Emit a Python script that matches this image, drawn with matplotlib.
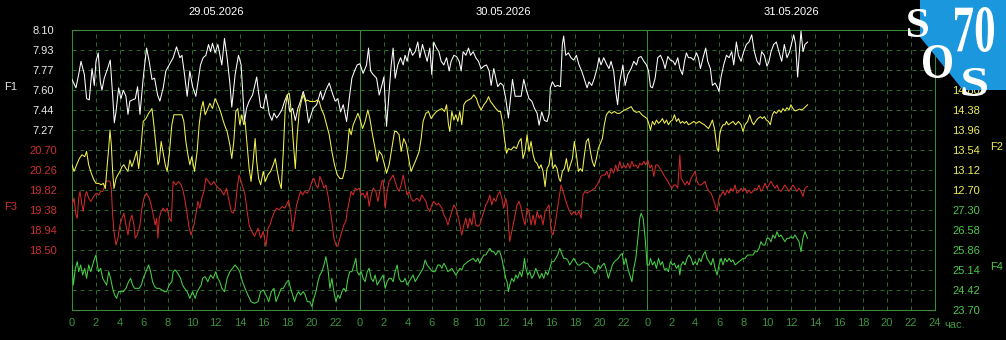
import matplotlib
matplotlib.use('Agg')
import matplotlib.pyplot as plt
from matplotlib.patches import Polygon, PathPatch
from matplotlib.textpath import TextPath
from matplotlib.font_manager import FontProperties
from matplotlib.transforms import Affine2D, IdentityTransform

plt.rcParams['font.family'] = ['Liberation Sans', 'DejaVu Sans']

# ---- data (hours since 29.05.2026 00:00, value) ----
dates = ['29.05.2026', '30.05.2026', '31.05.2026']

f1_ticks = [8.10, 7.93, 7.77, 7.60, 7.44, 7.27]
f2_ticks = [14.80, 14.38, 13.96, 13.54, 13.12, 12.70]
f3_ticks = [20.70, 20.26, 19.82, 19.38, 18.94, 18.50]
f4_ticks = [27.30, 26.58, 25.86, 25.14, 24.42, 23.70]

f1_points = [
    (0, 7.69), (0.33, 7.62), (0.61, 7.76), (0.75, 7.84), (1.03, 7.73), (1.22, 7.53), (1.44, 7.52),
    (1.67, 7.78), (1.86, 7.64), (2.0, 7.84), (2.19, 7.91), (2.36, 7.67), (2.5, 7.60), (2.69, 7.70),
    (2.97, 7.78), (3.19, 7.85), (3.39, 7.56), (3.53, 7.33), (3.67, 7.42), (3.89, 7.62), (4.08, 7.53),
    (4.28, 7.60), (4.5, 7.55), (4.67, 7.40), (4.83, 7.51), (5.06, 7.52), (5.28, 7.53), (5.47, 7.63),
    (5.67, 7.40), (5.94, 7.70), (6.22, 7.95), (6.44, 7.84), (6.67, 7.69), (6.89, 7.70), (7.14, 7.56),
    (7.33, 7.51), (7.61, 7.62), (7.83, 7.76), (8.11, 7.81), (8.44, 7.87), (8.72, 7.96), (9.0, 7.87),
    (9.17, 7.89), (9.39, 7.73), (9.61, 7.55), (9.83, 7.76), (10.06, 7.63), (10.33, 7.55), (10.5, 7.66),
    (10.72, 7.81), (10.94, 7.87), (11.17, 7.89), (11.39, 7.98), (11.56, 7.92), (11.72, 7.99),
    (11.94, 7.91), (12.17, 7.98), (12.5, 7.81), (12.72, 8.03), (12.94, 7.87), (13.17, 7.66),
    (13.33, 7.46), (13.61, 7.73), (13.89, 7.89), (14.11, 7.81), (14.39, 7.34), (14.56, 7.45),
    (14.78, 7.51), (15.06, 7.56),
    (15.41, 7.71), (15.54, 7.60), (15.74, 7.46), (15.96, 7.45), (16.18, 7.57), (16.46, 7.40),
    (16.68, 7.35), (16.85, 7.41), (17.07, 7.37), (17.29, 7.40), (17.52, 7.44), (17.74, 7.51),
    (17.96, 7.56), (18.18, 7.42), (18.41, 7.45), (18.63, 7.35), (18.85, 7.45), (19.07, 7.51),
    (19.29, 7.59), (19.46, 7.53), (19.74, 7.33), (19.96, 7.40), (20.13, 7.45), (20.41, 7.48),
    (20.74, 7.59), (20.91, 7.52), (21.18, 7.60), (21.46, 7.66), (21.74, 7.57), (21.96, 7.51),
    (22.18, 7.53), (22.41, 7.42), (22.63, 7.48), (22.91, 7.34), (23.13, 7.53), (23.35, 7.70),
    (23.57, 7.76), (23.79, 7.81), (24.02, 7.82), (24.29, 7.74), (24.57, 7.81), (24.74, 7.95),
    (24.91, 7.76), (25.13, 7.73), (25.41, 7.70), (25.63, 7.56), (25.85, 7.64), (26.02, 7.71),
    (26.24, 7.30), (26.46, 7.59), (26.63, 7.81), (26.79, 7.95), (26.96, 7.70), (27.18, 7.81),
    (27.41, 7.87), (27.63, 7.81), (27.79, 7.89), (27.96, 7.84), (28.18, 7.95), (28.41, 7.89),
    (28.63, 7.92), (28.85, 8.00), (29.02, 7.87), (29.24, 7.98), (29.41, 7.92), (29.63, 7.84),
    (29.85, 7.95), (30.02, 7.73), (30.18, 8.00), (30.41, 7.95),
    (30.61, 7.92), (30.8, 7.84), (31.02, 7.81), (31.25, 7.87), (31.47, 7.76), (31.63, 7.84),
    (31.86, 7.89), (32.08, 7.88), (32.3, 7.84), (32.47, 7.76), (32.63, 7.92), (32.86, 7.89),
    (33.08, 7.95), (33.25, 7.89), (33.47, 7.92), (33.69, 7.87), (33.91, 7.84), (34.13, 7.78),
    (34.36, 7.80), (34.58, 7.81), (34.8, 7.76), (34.97, 7.64), (35.19, 7.78), (35.36, 7.70),
    (35.52, 7.63), (35.75, 7.66), (35.97, 7.64), (36.19, 7.53), (36.41, 7.37), (36.58, 7.53),
    (36.75, 7.69), (36.97, 7.55), (37.19, 7.55), (37.47, 7.55), (37.69, 7.69), (37.91, 7.60),
    (38.13, 7.53), (38.36, 7.51), (38.58, 7.45), (38.8, 7.41), (38.97, 7.31), (39.19, 7.42),
    (39.41, 7.35), (39.63, 7.34), (39.8, 7.40), (39.91, 7.62), (40.08, 7.67), (40.3, 7.63),
    (40.52, 7.64), (40.75, 7.63), (40.91, 7.98), (41.02, 8.05), (41.19, 7.89), (41.41, 7.91),
    (41.63, 7.87), (41.86, 7.85), (42.08, 7.89), (42.3, 7.81), (42.52, 7.76), (42.75, 7.69),
    (42.97, 7.62), (43.13, 7.67), (43.36, 7.64), (43.58, 7.70), (43.8, 7.78), (43.97, 7.87),
    (44.13, 7.81), (44.36, 7.87), (44.58, 7.82), (44.8, 7.78), (44.97, 7.84), (45.19, 7.76),
    (45.36, 7.59), (45.52, 7.48), (45.69, 7.67),
    (45.96, 7.81), (46.15, 7.64), (46.37, 7.73), (46.65, 7.78), (46.87, 7.84), (47.1, 7.81),
    (47.26, 7.87), (47.48, 7.88), (47.71, 7.84), (47.93, 7.81), (48.1, 7.76), (48.26, 7.63),
    (48.43, 7.62), (48.65, 7.70), (48.87, 7.87), (49.1, 7.89), (49.32, 7.84), (49.48, 7.78),
    (49.71, 7.88), (49.93, 7.85), (50.15, 7.84), (50.32, 7.81), (50.54, 7.87), (50.71, 7.78),
    (50.93, 7.73), (51.1, 7.84), (51.26, 7.91), (51.43, 7.87), (51.65, 7.87), (51.87, 7.85),
    (52.1, 7.91), (52.26, 7.87), (52.43, 7.78), (52.65, 7.87), (52.87, 7.95), (53.04, 7.84),
    (53.26, 7.78), (53.43, 7.64), (53.65, 7.66), (53.82, 7.63), (53.98, 7.59), (54.15, 7.71),
    (54.37, 7.81), (54.6, 7.89), (54.82, 7.87), (55.04, 7.92), (55.21, 7.81), (55.43, 8.00),
    (55.6, 7.89), (55.82, 7.84), (56.04, 7.92), (56.26, 7.98), (56.48, 8.00), (56.71, 8.06),
    (56.93, 7.92), (57.15, 7.84), (57.37, 7.81), (57.54, 7.92), (57.76, 7.89), (57.98, 7.80),
    (58.15, 7.84), (58.32, 7.92), (58.54, 7.98), (58.76, 8.00), (58.98, 7.92), (59.21, 7.84),
    (59.43, 7.98), (59.65, 7.87), (59.87, 7.92), (60.04, 7.99), (60.21, 8.06), (60.37, 7.98),
    (60.54, 7.71), (60.71, 7.95), (60.82, 8.09), (60.99, 7.92), (61.15, 7.98), (61.37, 8.00),
]

f2_points = [
    (0, 13.23), (0.17, 13.09), (0.39, 13.23), (0.61, 13.36), (0.83, 13.44), (1.06, 13.40), (1.22, 13.51),
    (1.39, 13.23), (1.61, 13.05), (1.83, 12.91), (2.0, 12.84), (2.22, 12.84), (2.44, 12.81),
    (2.61, 12.84), (2.78, 12.73), (2.94, 13.23), (3.06, 13.57), (3.17, 13.96), (3.28, 13.65),
    (3.39, 13.09), (3.5, 12.73), (3.67, 12.94), (3.83, 13.02), (4.0, 13.09), (4.17, 13.19),
    (4.33, 13.23), (4.5, 13.15), (4.67, 13.09), (4.83, 13.33), (5.0, 13.19), (5.22, 13.36),
    (5.39, 13.51), (5.56, 13.15), (5.72, 13.51), (5.94, 14.14), (6.17, 14.20), (6.39, 14.31),
    (6.5, 14.35), (6.67, 14.41), (6.83, 14.07), (7.0, 13.65), (7.17, 13.23), (7.28, 13.30),
    (7.44, 13.72), (7.61, 13.47), (7.78, 13.23), (7.94, 13.09), (8.11, 13.44), (8.33, 14.07),
    (8.5, 14.28), (9.17, 14.28), (9.33, 14.14), (9.5, 13.72), (9.67, 13.44), (9.83, 13.23),
    (10.0, 13.40), (10.22, 13.09), (10.44, 13.51), (10.61, 14.07), (10.78, 14.41), (10.94, 14.56),
    (11.11, 14.28), (11.33, 14.41), (11.5, 14.52), (11.72, 14.41), (11.94, 14.62), (12.17, 14.49),
    (12.39, 14.35), (12.56, 14.20), (12.72, 14.07), (12.94, 13.93), (13.17, 13.65), (13.33, 13.36),
    (13.5, 13.72), (13.67, 14.35), (13.83, 14.41), (14.0, 14.07), (14.17, 14.28), (14.33, 14.07),
    (14.44, 14.14), (14.61, 13.65), (14.78, 13.15), (14.94, 12.88), (15.11, 13.30), (15.28, 13.78),
    (15.41, 13.30), (15.57, 12.94), (15.74, 12.81), (15.96, 13.09), (16.13, 12.88), (16.35, 13.02),
    (16.57, 13.09), (16.79, 13.23), (16.96, 13.36), (17.13, 13.09), (17.29, 12.88), (17.46, 12.73),
    (17.63, 13.51), (17.79, 14.41), (17.96, 14.70), (18.13, 14.73), (18.29, 14.35), (18.46, 13.72),
    (18.63, 13.15), (18.79, 13.86), (18.96, 14.35), (19.13, 14.56), (19.29, 14.70), (19.46, 14.56),
    (19.63, 14.59), (19.85, 14.56), (20.07, 14.56), (20.29, 14.56), (20.46, 14.59), (20.63, 14.56),
    (20.79, 14.41), (21.02, 14.28), (21.24, 14.07), (21.46, 13.86), (21.68, 13.51), (21.9, 13.23),
    (22.13, 13.02), (22.35, 12.94), (22.57, 12.94), (22.79, 13.15), (22.96, 13.51), (23.13, 13.99),
    (23.29, 13.86), (23.46, 14.07), (23.68, 14.20), (23.85, 14.31), (24.02, 14.20), (24.24, 13.99),
    (24.46, 14.14), (24.68, 14.38), (24.85, 14.20), (25.07, 13.86), (25.29, 13.57), (25.46, 13.30),
    (25.63, 13.51), (25.85, 13.44), (26.07, 13.23), (26.24, 13.05), (26.46, 13.23), (26.68, 13.57),
    (26.91, 13.93), (27.07, 13.93), (27.29, 13.86), (27.46, 13.51), (27.68, 13.78), (27.9, 13.65),
    (28.13, 13.30), (28.29, 13.09), (28.52, 13.23), (28.74, 13.36), (28.96, 13.51), (29.13, 13.78),
    (29.29, 14.14), (29.52, 14.31), (29.74, 14.35), (29.96, 14.20), (30.18, 14.28), (30.41, 14.35),
    (30.63, 14.38),
    (30.86, 14.41), (31.08, 14.35), (31.25, 14.49), (31.41, 14.07), (31.52, 13.93), (31.69, 14.35),
    (31.86, 14.17), (32.02, 14.28), (32.19, 14.14), (32.36, 14.35), (32.52, 14.07), (32.69, 14.49),
    (32.86, 14.56), (33.08, 14.59), (33.3, 14.62), (33.52, 14.70), (33.75, 14.62), (33.91, 14.49),
    (34.13, 14.38), (34.36, 14.49), (34.58, 14.56), (34.75, 14.66), (34.91, 14.56), (35.13, 14.49),
    (35.36, 14.41), (35.58, 14.35), (35.75, 14.35), (35.91, 14.14), (36.08, 13.78), (36.25, 13.47),
    (36.41, 13.57), (36.63, 13.54), (36.86, 13.61), (37.08, 13.57), (37.3, 13.72), (37.47, 13.78),
    (37.63, 13.36), (37.8, 13.51), (37.97, 13.86), (38.13, 13.51), (38.3, 13.72), (38.47, 13.44),
    (38.63, 13.30), (38.8, 13.26), (38.97, 13.15), (39.13, 13.23), (39.3, 13.09), (39.47, 12.77),
    (39.63, 13.15), (39.8, 13.23), (39.97, 13.54), (40.13, 13.15), (40.3, 13.23), (40.47, 13.15),
    (40.63, 12.94), (40.75, 12.88), (40.91, 13.09), (41.08, 13.15), (41.25, 13.36), (41.41, 13.09),
    (41.58, 13.23), (41.75, 13.36), (41.91, 13.72), (42.08, 13.44), (42.25, 13.09), (42.41, 13.15),
    (42.58, 13.09), (42.75, 13.44), (42.91, 13.72), (43.08, 13.78), (43.25, 13.51), (43.41, 13.30),
    (43.58, 13.19), (43.75, 13.36), (43.91, 13.57), (44.08, 13.68), (44.25, 13.78), (44.41, 14.07),
    (44.58, 14.28), (44.8, 14.35), (45.02, 14.31), (45.25, 14.35), (45.47, 14.31), (45.69, 14.31),
    (45.91, 14.35),
    (46.1, 14.38), (46.37, 14.41), (46.65, 14.45), (46.87, 14.36), (47.1, 14.33), (47.32, 14.35),
    (47.54, 14.28), (47.76, 14.24), (47.98, 14.20), (48.15, 14.07), (48.26, 13.96), (48.43, 14.14),
    (48.6, 14.07), (48.76, 14.17), (48.93, 14.10), (49.1, 14.14), (49.26, 14.20), (49.43, 14.10),
    (49.6, 14.17), (49.76, 14.07), (49.93, 14.14), (50.1, 14.17), (50.26, 14.28), (50.43, 14.14),
    (50.6, 14.20), (50.76, 14.10), (50.93, 14.14), (51.1, 14.10), (51.26, 14.14), (51.43, 14.07),
    (51.65, 14.10), (51.87, 14.14), (52.1, 14.10), (52.32, 14.14), (52.54, 14.10), (52.76, 14.07),
    (52.93, 14.03), (53.1, 13.99), (53.26, 14.07), (53.43, 14.17), (53.6, 13.99), (53.71, 13.78),
    (53.82, 13.57), (53.93, 13.51), (54.04, 13.86), (54.15, 13.99), (54.32, 14.07), (54.48, 14.07),
    (54.6, 14.14), (54.76, 14.07), (54.93, 14.10), (55.15, 14.14), (55.37, 14.07), (55.6, 14.14),
    (55.82, 14.07), (55.98, 13.93), (56.15, 14.07), (56.37, 14.14), (56.54, 14.28), (56.71, 14.14),
    (56.87, 14.07), (57.04, 14.14), (57.21, 14.20), (57.43, 14.24), (57.6, 14.20), (57.76, 14.24),
    (57.93, 14.17), (58.1, 14.14), (58.26, 14.07), (58.43, 14.28), (58.6, 14.35), (58.76, 14.31),
    (58.98, 14.38), (59.15, 14.33), (59.32, 14.41), (59.48, 14.36), (59.65, 14.43), (59.82, 14.38),
    (59.98, 14.49), (60.15, 14.41), (60.32, 14.36), (60.54, 14.38), (60.71, 14.40), (60.87, 14.38),
    (61.04, 14.41), (61.21, 14.45), (61.37, 14.49),
]

f3_points = [
    (0, 19.49), (0.17, 19.64), (0.33, 19.27), (0.44, 19.20), (0.56, 19.64), (0.67, 19.79), (0.83, 19.49),
    (0.94, 19.35), (1.11, 19.71), (1.22, 19.79), (1.39, 19.64), (1.56, 19.57), (1.72, 19.64),
    (1.89, 19.71), (2.06, 19.75), (2.22, 19.71), (2.39, 19.79), (2.56, 19.79), (2.67, 19.86),
    (2.83, 20.01), (3.0, 20.02), (3.17, 20.01), (3.28, 19.86), (3.39, 19.27), (3.5, 18.91),
    (3.67, 18.61), (3.83, 18.76), (4.0, 19.05), (4.17, 19.20), (4.33, 19.31), (4.5, 19.05),
    (4.67, 18.83), (4.83, 19.13), (5.0, 19.27), (5.17, 19.05), (5.28, 18.76), (5.44, 18.83),
    (5.67, 19.05), (5.83, 19.42), (6.0, 19.64), (6.22, 19.75), (6.44, 19.64), (6.61, 19.49),
    (6.78, 19.27), (6.94, 19.05), (7.06, 19.20), (7.17, 18.76), (7.28, 19.20), (7.44, 19.35),
    (7.61, 19.42), (7.78, 19.35), (7.94, 19.42), (8.11, 19.20), (8.28, 19.13), (8.44, 20.01),
    (8.67, 19.93), (8.89, 20.01), (9.11, 19.93), (9.28, 19.79), (9.44, 19.57), (9.61, 19.27),
    (9.78, 18.98), (9.94, 18.83), (10.17, 19.05), (10.33, 19.27), (10.5, 19.57), (10.67, 19.42),
    (10.83, 19.64), (11.0, 19.79), (11.17, 20.08), (11.39, 20.01), (11.61, 19.93), (11.83, 20.01),
    (12.0, 19.93), (12.22, 19.86), (12.44, 19.82), (12.67, 19.71), (12.89, 19.86), (13.11, 19.57),
    (13.28, 19.35), (13.44, 19.31), (13.61, 19.42), (13.78, 19.86), (13.94, 20.15), (14.11, 20.01),
    (14.28, 19.86), (14.44, 19.71), (14.61, 19.35), (14.78, 19.05), (15.0, 18.91), (15.22, 18.80),
    (15.52, 18.98), (15.74, 18.76), (15.96, 18.91), (16.18, 18.58), (16.35, 18.98), (16.52, 19.05),
    (16.68, 19.20), (16.91, 19.35), (17.07, 19.42), (17.29, 19.38), (17.52, 19.46), (17.74, 19.42),
    (17.9, 19.49), (18.07, 19.60), (18.24, 19.35), (18.41, 18.91), (18.57, 19.20), (18.74, 19.49),
    (18.9, 19.64), (19.07, 19.79), (19.24, 19.71), (19.41, 19.79), (19.63, 19.75), (19.85, 19.86),
    (20.02, 20.01), (20.18, 20.08), (20.35, 19.93), (20.52, 19.86), (20.68, 20.12), (20.85, 20.01),
    (21.02, 19.86), (21.18, 19.93), (21.35, 19.71), (21.52, 19.42), (21.68, 19.13), (21.85, 18.76),
    (22.02, 18.61), (22.18, 18.58), (22.35, 18.76), (22.52, 18.91), (22.68, 19.05), (22.85, 19.13),
    (22.96, 19.35), (23.13, 19.57), (23.29, 19.79), (23.46, 19.71), (23.63, 19.86), (23.79, 19.82),
    (23.96, 19.86), (24.13, 19.71), (24.29, 19.75), (24.46, 19.64), (24.63, 19.79), (24.79, 19.46),
    (24.96, 19.71), (25.13, 19.86), (25.35, 19.79), (25.52, 19.57), (25.68, 19.79), (25.85, 20.01),
    (25.96, 20.04), (26.13, 19.42), (26.29, 19.79), (26.46, 20.01), (26.63, 20.08), (26.79, 20.15),
    (26.96, 20.01), (27.13, 19.86), (27.29, 19.79), (27.46, 19.93), (27.63, 20.15), (27.79, 19.93),
    (27.96, 19.71), (28.13, 19.79), (28.29, 19.64), (28.46, 19.57), (28.63, 19.60), (28.79, 19.64),
    (29.02, 19.57), (29.18, 19.71), (29.35, 19.64), (29.52, 19.57), (29.68, 19.42), (29.85, 19.35),
    (30.02, 19.49), (30.18, 19.57), (30.41, 19.49), (30.57, 19.53),
    (30.86, 19.42), (31.02, 19.27), (31.19, 19.20), (31.36, 19.05), (31.52, 19.20), (31.69, 19.35),
    (31.86, 19.49), (32.02, 19.42), (32.19, 19.27), (32.36, 19.05), (32.52, 18.83), (32.69, 19.05),
    (32.86, 19.20), (33.02, 18.98), (33.19, 19.20), (33.36, 19.05), (33.52, 19.35), (33.69, 19.05),
    (33.86, 19.02), (34.02, 19.05), (34.19, 19.20), (34.36, 19.35), (34.52, 19.49), (34.69, 19.57),
    (34.86, 19.71), (35.02, 19.49), (35.19, 19.64), (35.36, 19.57), (35.52, 19.71), (35.69, 19.79),
    (35.86, 19.64), (36.02, 19.42), (36.19, 19.64), (36.3, 19.49), (36.41, 19.05), (36.52, 18.69),
    (36.63, 18.83), (36.8, 19.05), (36.97, 19.27), (37.13, 19.49), (37.3, 19.57), (37.47, 19.42),
    (37.63, 19.20), (37.8, 19.05), (37.97, 19.42), (38.13, 19.35), (38.3, 19.05), (38.47, 19.27),
    (38.63, 19.05), (38.8, 19.35), (38.97, 19.20), (39.13, 19.27), (39.3, 19.05), (39.47, 19.35),
    (39.63, 19.42), (39.8, 19.49), (39.97, 18.91), (40.13, 18.83), (40.3, 19.05), (40.47, 19.35),
    (40.63, 19.64), (40.8, 19.93), (40.97, 19.79), (41.13, 19.64), (41.3, 19.49), (41.52, 19.35),
    (41.69, 19.27), (41.86, 19.35), (42.08, 19.27), (42.3, 19.35), (42.47, 19.20), (42.63, 19.71),
    (42.8, 19.79), (42.97, 19.75), (43.19, 19.79), (43.41, 19.82), (43.63, 19.86), (43.8, 19.93),
    (43.97, 20.01), (44.13, 20.12), (44.3, 20.15), (44.47, 20.15), (44.63, 20.23), (44.8, 20.08),
    (44.97, 20.30), (45.19, 20.19), (45.36, 20.37), (45.52, 20.23), (45.69, 20.45), (45.86, 20.30),
    (46.04, 20.37), (46.21, 20.30), (46.37, 20.41), (46.54, 20.30), (46.71, 20.45), (46.87, 20.34),
    (47.04, 20.37), (47.21, 20.30), (47.37, 20.41), (47.54, 20.37), (47.71, 20.45), (47.87, 20.37),
    (48.04, 20.48), (48.21, 20.30), (48.37, 20.37), (48.54, 20.12), (48.71, 20.37), (48.87, 20.37),
    (49.04, 20.30), (49.21, 20.23), (49.37, 20.15), (49.54, 20.08), (49.71, 20.01), (49.87, 19.93),
    (50.04, 19.86), (50.21, 19.93), (50.37, 19.93), (50.54, 19.86), (50.71, 20.59), (50.82, 20.08),
    (50.98, 20.01), (51.15, 19.93), (51.32, 20.01), (51.48, 19.93), (51.65, 20.08), (51.82, 20.15),
    (51.98, 20.23), (52.15, 20.01), (52.32, 19.93), (52.48, 19.93), (52.65, 19.97), (52.82, 20.01),
    (52.98, 19.86), (53.15, 19.79), (53.32, 19.75), (53.48, 19.64), (53.65, 19.49), (53.82, 19.35),
    (53.98, 19.64), (54.15, 19.71), (54.32, 19.79), (54.48, 19.71), (54.65, 19.82), (54.82, 19.75),
    (54.98, 19.86), (55.15, 19.79), (55.32, 19.93), (55.48, 19.75), (55.65, 19.79), (55.82, 19.86),
    (55.98, 19.79), (56.15, 19.86), (56.32, 19.75), (56.48, 19.82), (56.65, 19.75), (56.82, 19.79),
    (56.98, 19.86), (57.15, 19.82), (57.32, 19.93), (57.48, 19.79), (57.65, 19.86), (57.82, 19.97),
    (57.98, 19.86), (58.15, 19.93), (58.32, 20.01), (58.48, 19.93), (58.65, 19.86), (58.82, 19.93),
    (58.98, 19.82), (59.15, 19.79), (59.32, 19.86), (59.48, 19.93), (59.65, 19.86), (59.82, 19.79),
    (59.98, 19.86), (60.15, 19.93), (60.32, 19.86), (60.48, 19.79), (60.65, 19.86), (60.82, 19.79),
    (60.98, 19.68), (61.15, 19.86), (61.37, 19.90),
]

f4_points = [
    (0, 25.32), (0.11, 24.60), (0.28, 25.20), (0.44, 25.44), (0.56, 25.08), (0.72, 25.32), (0.89, 24.96),
    (1.06, 25.20), (1.22, 24.84), (1.39, 25.32), (1.56, 25.08), (1.72, 25.32), (1.89, 25.56),
    (2.0, 25.68), (2.11, 25.32), (2.22, 25.08), (2.39, 25.20), (2.56, 24.84), (2.72, 24.72),
    (2.89, 24.60), (3.06, 25.08), (3.22, 24.84), (3.39, 24.48), (3.56, 24.24), (3.72, 24.12),
    (3.89, 24.36), (4.06, 24.36), (4.28, 24.36), (4.5, 24.48), (4.72, 24.72), (4.89, 24.84),
    (5.06, 24.60), (5.22, 24.48), (5.39, 24.48), (5.61, 24.48), (5.78, 24.60), (5.94, 24.84),
    (6.17, 25.08), (6.39, 25.32), (6.56, 25.08), (6.72, 24.72), (6.89, 24.54), (7.06, 24.48),
    (7.28, 24.48), (7.5, 24.42), (7.72, 24.36), (7.89, 24.36), (8.11, 24.60), (8.33, 24.72),
    (8.44, 25.08), (8.61, 25.14), (8.83, 25.02), (9.06, 24.84), (9.22, 24.60), (9.39, 24.48),
    (9.61, 24.36), (9.83, 24.12), (10.06, 24.36), (10.28, 24.12), (10.44, 24.36), (10.61, 24.48),
    (10.78, 24.60), (10.89, 24.84), (11.11, 24.90), (11.33, 24.72), (11.56, 24.96), (11.78, 24.84),
    (12.0, 25.08), (12.17, 24.84), (12.33, 24.72), (12.5, 24.48), (12.72, 24.36), (12.94, 24.84),
    (13.17, 25.08), (13.39, 25.20), (13.61, 25.32), (13.83, 25.20), (14.0, 25.08), (14.22, 24.72),
    (14.44, 24.48), (14.67, 24.24), (14.94, 24.00), (15.22, 23.94),
    (15.52, 24.00), (15.74, 24.36), (15.96, 24.42), (16.18, 24.24), (16.41, 24.00), (16.63, 24.36),
    (16.85, 24.48), (17.02, 24.00), (17.24, 24.24), (17.46, 24.48), (17.63, 24.48), (17.85, 24.66),
    (18.07, 24.78), (18.24, 24.48), (18.41, 24.24), (18.57, 24.00), (18.74, 24.24), (18.9, 24.36),
    (19.07, 24.24), (19.29, 24.36), (19.46, 24.24), (19.63, 24.00), (19.85, 24.00), (20.02, 23.82),
    (20.18, 24.12), (20.35, 24.36), (20.52, 24.72), (20.68, 24.96), (20.85, 25.08), (21.02, 25.32),
    (21.18, 25.62), (21.35, 25.20), (21.52, 24.48), (21.68, 24.84), (21.85, 24.36), (22.02, 24.00),
    (22.18, 24.24), (22.35, 24.12), (22.52, 24.36), (22.68, 24.48), (22.85, 24.36), (23.02, 24.84),
    (23.18, 25.08), (23.35, 25.08), (23.52, 25.32), (23.68, 25.56), (23.79, 25.08), (23.96, 24.96),
    (24.13, 25.08), (24.29, 24.84), (24.46, 24.72), (24.63, 25.08), (24.79, 25.20), (24.96, 24.84),
    (25.13, 24.72), (25.29, 24.96), (25.46, 24.60), (25.63, 24.72), (25.79, 24.84), (25.96, 24.96),
    (26.13, 24.48), (26.29, 24.72), (26.46, 24.84), (26.63, 24.84), (26.79, 24.72), (26.96, 25.08),
    (27.13, 25.32), (27.29, 24.84), (27.46, 24.72), (27.63, 24.72), (27.79, 24.84), (27.96, 24.60),
    (28.13, 24.72), (28.29, 24.84), (28.46, 24.96), (28.63, 24.72), (28.79, 24.84), (28.96, 24.96),
    (29.13, 25.08), (29.29, 25.20), (29.46, 25.50), (29.63, 25.32), (29.85, 25.20), (30.07, 25.08),
    (30.29, 25.08), (30.52, 25.32),
    (30.69, 25.32), (30.86, 25.20), (31.02, 25.38), (31.19, 25.26), (31.36, 25.08), (31.52, 25.14),
    (31.69, 25.20), (31.86, 25.08), (32.02, 24.96), (32.19, 25.08), (32.36, 25.20), (32.52, 25.14),
    (32.69, 25.32), (32.86, 25.38), (33.02, 25.44), (33.25, 25.50), (33.47, 25.56), (33.69, 25.44),
    (33.86, 25.56), (34.02, 25.38), (34.19, 25.56), (34.36, 25.68), (34.52, 25.68), (34.69, 25.80),
    (34.86, 25.92), (35.02, 25.80), (35.19, 25.80), (35.36, 25.68), (35.52, 25.80), (35.69, 25.80),
    (35.86, 25.56), (36.02, 25.20), (36.19, 24.84), (36.3, 24.72), (36.41, 24.36), (36.52, 24.60),
    (36.69, 24.84), (36.86, 24.72), (37.02, 24.96), (37.19, 24.84), (37.36, 25.08), (37.52, 24.90),
    (37.63, 25.14), (37.75, 25.56), (37.86, 25.20), (38.02, 24.96), (38.19, 25.08), (38.36, 24.84),
    (38.52, 24.96), (38.69, 25.20), (38.86, 25.02), (39.02, 24.84), (39.19, 25.02), (39.36, 24.84),
    (39.52, 25.08), (39.69, 24.96), (39.86, 25.20), (40.02, 25.44), (40.19, 25.44), (40.36, 25.56),
    (40.52, 25.68), (40.69, 25.92), (40.86, 25.74), (41.02, 25.56), (41.19, 25.56), (41.36, 25.50),
    (41.52, 25.32), (41.69, 25.44), (41.86, 25.56), (42.02, 25.44), (42.19, 25.32), (42.36, 25.32),
    (42.52, 25.38), (42.69, 25.44), (42.86, 25.38), (43.02, 25.38), (43.19, 25.26), (43.41, 25.20),
    (43.58, 25.02), (43.75, 25.08), (43.91, 25.32), (44.08, 25.20), (44.25, 25.32), (44.41, 25.38),
    (44.58, 25.14), (44.75, 24.84), (44.91, 25.08), (45.08, 25.32), (45.25, 25.44), (45.41, 25.50),
    (45.58, 25.56), (45.75, 25.68), (45.91, 25.74),
    (46.04, 25.32), (46.21, 25.56), (46.37, 25.20), (46.54, 24.96), (46.71, 24.72), (46.87, 25.20),
    (47.04, 25.56), (47.21, 26.28), (47.37, 27.00), (47.48, 27.18), (47.65, 27.00), (47.82, 26.28),
    (47.98, 25.32), (48.15, 25.32), (48.26, 25.56), (48.43, 25.32), (48.6, 25.44), (48.76, 25.20),
    (48.93, 25.56), (49.1, 25.32), (49.26, 25.44), (49.43, 25.14), (49.6, 25.20), (49.76, 25.08),
    (49.93, 25.44), (50.1, 25.32), (50.26, 25.38), (50.43, 25.20), (50.6, 25.32), (50.71, 24.96),
    (50.82, 25.32), (50.98, 25.44), (51.15, 25.32), (51.32, 25.56), (51.48, 25.68), (51.65, 25.56),
    (51.82, 25.32), (51.98, 25.44), (52.15, 25.32), (52.32, 25.56), (52.48, 25.44), (52.65, 25.68),
    (52.82, 25.80), (52.98, 25.56), (53.15, 25.44), (53.32, 25.32), (53.48, 25.56), (53.65, 25.20),
    (53.82, 24.96), (53.98, 25.32), (54.15, 25.56), (54.32, 25.32), (54.48, 25.56), (54.65, 25.44),
    (54.82, 25.56), (54.98, 25.44), (55.15, 25.50), (55.32, 25.32), (55.48, 25.38), (55.65, 25.44),
    (55.82, 25.50), (55.98, 25.56), (56.15, 25.56), (56.37, 25.68), (56.6, 25.68), (56.82, 25.68),
    (56.98, 25.80), (57.15, 25.80), (57.32, 25.92), (57.48, 26.16), (57.65, 26.04), (57.82, 26.04),
    (57.98, 26.28), (58.15, 26.28), (58.32, 26.16), (58.48, 26.40), (58.65, 26.28), (58.82, 26.52),
    (58.98, 26.34), (59.15, 26.40), (59.32, 26.28), (59.48, 26.16), (59.65, 26.28), (59.82, 26.28),
    (59.98, 26.34), (60.15, 26.28), (60.32, 26.40), (60.48, 26.28), (60.65, 26.16), (60.82, 25.80),
    (60.98, 26.28), (61.15, 26.52), (61.37, 26.28),
]

# ---- style ----
W, H = 1006, 340
bg = 'black'
frame_col = '#3a8a3a'
grid_col = '#2c6a2c'
tick_col = '#3c943c'
c_white, c_yellow, c_red, c_green = '#ffffff', '#f2f250', '#d22a2a', '#48d048'

fig = plt.figure(figsize=(W / 100, H / 100), dpi=100, facecolor=bg)
ax = fig.add_axes([72 / W, 1 - 310 / H, (935 - 72) / W, 280 / H])
ax.set_facecolor(bg)
ax.set_xlim(0, 72)
ax.set_ylim(0, 14)

for h in range(2, 72, 2):
    if h % 24 == 0:
        ax.axvline(h, color=frame_col, lw=0.8, zorder=1)
    else:
        ax.axvline(h, color=grid_col, lw=0.72, ls=(0, (4, 4)), zorder=1)
for r in range(1, 14):
    ax.axhline(r, color=grid_col, lw=0.72, ls=(0, (4, 4)), zorder=1)
for sp in ax.spines.values():
    sp.set_color(frame_col)
    sp.set_linewidth(0.8)

xt = list(range(0, 73, 2))
ax.set_xticks(xt)
ax.set_xticklabels([str(h % 24) if h < 72 else '24' for h in xt])
ax.tick_params(axis='x', length=0, pad=6, labelsize=8, labelcolor=tick_col)
ax.set_yticks([])

for i, d in enumerate(dates):
    ax.text(12 + 24 * i, 1.064, d, transform=ax.get_xaxis_transform(),
            ha='center', va='center', color='white', fontsize=8)
fig.text(944 / W, 1 - 325 / H, 'час.', ha='left', va='center', color=tick_col, fontsize=8)


def series_axis(ticks, first_row, side, color, pad):
    a = ax.twinx()
    step = (ticks[0] - ticks[-1]) / (len(ticks) - 1)
    top = ticks[0] + first_row * step
    a.set_ylim(top - 14 * step, top)
    if side == 'left':
        a.yaxis.tick_left()
    else:
        a.yaxis.tick_right()
    a.set_yticks(ticks)
    a.set_yticklabels(['%.2f' % t for t in ticks])
    a.tick_params(axis='y', length=0, pad=pad, labelsize=8, labelcolor=color)
    for sp in a.spines.values():
        sp.set_visible(False)
    return a


a1 = series_axis(f1_ticks, 0, 'left', '#e8e8e8', 13)
a3 = series_axis(f3_ticks, 6, 'left', '#cc3030', 10.8)
a2 = series_axis(f2_ticks, 3, 'right', '#eeee58', 12.2)
a4 = series_axis(f4_ticks, 9, 'right', '#4cc84c', 12.2)

for a, pts, col in [(a4, f4_points, c_green), (a3, f3_points, c_red),
                    (a2, f2_points, c_yellow), (a1, f1_points, c_white)]:
    hrs, vals = zip(*pts)
    a.plot(hrs, vals, color=col, lw=0.75)

fig.text(11 / W, 1 - 87 / H, 'F1', ha='center', va='center', color='#e8e8e8', fontsize=8)
fig.text(11 / W, 1 - 207 / H, 'F3', ha='center', va='center', color='#cc3030', fontsize=8)
fig.text(997 / W, 1 - 147 / H, 'F2', ha='center', va='center', color='#eeee58', fontsize=8)
fig.text(997 / W, 1 - 267 / H, 'F4', ha='center', va='center', color='#4cc84c', fontsize=8)

# ---- logo ----
logo = Polygon([(920, H), (W, H), (W, H - 90), (963, H - 90), (920, H - 37)],
               closed=True, fc='#1b97dd', ec='none', transform=IdentityTransform(), zorder=5)
fig.add_artist(logo)
serif = FontProperties(family='Liberation Serif', weight='bold')


def glyph(s, x0, y0, x1, y1):
    tp = TextPath((0, 0), s, size=40, prop=serif)
    e = tp.get_extents()
    tr = (Affine2D().translate(-e.x0, -e.y0)
          .scale((x1 - x0) / e.width, (y1 - y0) / e.height)
          .translate(x0, H - y1))
    fig.add_artist(PathPatch(tr.transform_path(tp), fc='white', ec='none',
                             transform=IdentityTransform(), zorder=6))


glyph('S', 908, 9, 928, 37)
glyph('70', 955, 7, 994, 52)
glyph('O', 923, 45, 952, 78)
glyph('S', 963, 68, 987, 96)

fig.savefig('out.png', dpi=100, facecolor=bg)
